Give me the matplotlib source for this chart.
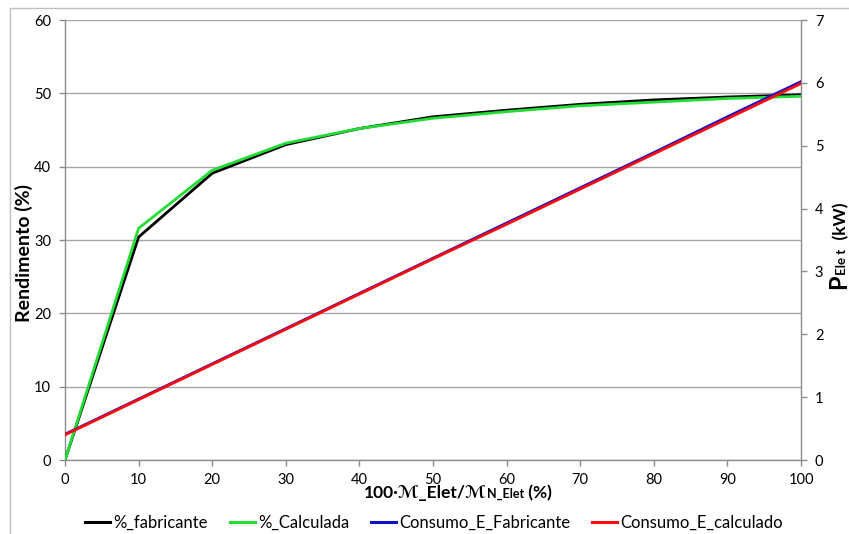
import matplotlib
matplotlib.use("Agg")
import matplotlib.pyplot as plt
from matplotlib.patches import Rectangle
from matplotlib.lines import Line2D

plt.rcParams['font.family'] = ['Lato', 'DejaVu Sans']

# Load level (% of nominal)
carga = [0, 10, 20, 30, 40, 50, 60, 70, 80, 90, 100]
# Efficiency (%)
rend_fabricante = [0, 30.4, 39.1, 43.0, 45.2, 46.8, 47.7, 48.5, 49.1, 49.5, 49.8]
rend_calculada = [0, 31.6, 39.5, 43.2, 45.2, 46.6, 47.5, 48.3, 48.8, 49.3, 49.6]
# Electric power (kW)
consumo_fabricante = [0.41, 0.97, 1.53, 2.09, 2.65, 3.21, 3.77, 4.33, 4.89, 5.46, 6.02]
consumo_calculado = [0.40, 0.96, 1.52, 2.08, 2.64, 3.20, 3.75, 4.31, 4.87, 5.43, 5.99]

W, H = 849, 534
fig = plt.figure(figsize=(W / 100, H / 100), dpi=100)

# chart area border
fig.patches.append(Rectangle((10 / W, -0.1), 1.2, (H - 8) / H + 0.1,
                             transform=fig.transFigure, fill=False,
                             edgecolor='#bfbfbf', lw=1.0))

ax = fig.add_axes([65 / W, (H - 460) / H, (801 - 65) / W, 440 / H])
ax2 = ax.twinx()

grid_c = '#8c8c8c'
ax.set_xlim(0, 100)
ax.set_ylim(0, 60)
ax.set_xticks(range(0, 101, 10))
ax.set_yticks(range(0, 61, 10))
ax.yaxis.grid(True, color='#a6a6a6', lw=1.0)
ax.set_axisbelow(True)
ax2.set_ylim(0, 7)
ax2.set_yticks(range(0, 8))

for a in (ax, ax2):
    for s in a.spines.values():
        s.set_visible(False)
    a.tick_params(colors=grid_c, labelcolor='black', labelsize=10.5,
                  length=4, width=1.0)
ax.spines['left'].set_visible(True)
ax.spines['bottom'].set_visible(True)
ax2.spines['right'].set_visible(True)
for s in (ax.spines['left'], ax.spines['bottom'], ax2.spines['right']):
    s.set_color(grid_c)
    s.set_linewidth(1.0)
ax.tick_params(axis='x', pad=5)
ax.tick_params(axis='y', pad=6)
ax2.tick_params(axis='y', pad=6)

lw = 2.0
ax.plot(carga, rend_fabricante, color='black', lw=lw, zorder=3)
ax.plot(carga, rend_calculada, color='#22dd33', lw=lw, zorder=4)
ax2.plot(carga, consumo_fabricante, color='#1010cc', lw=lw, zorder=3)
ax2.plot(carga, consumo_calculado, color='#ff0a0a', lw=lw, zorder=4)
ax.patch.set_visible(False)

ax.set_ylabel('Rendimento (%)', fontsize=14, fontweight='bold')
ax.yaxis.set_label_coords(-(65 - 33) / (801 - 65), 1 - (253 - 20) / 440)

# composite x label
fig.canvas.draw()
r = fig.canvas.get_renderer()

def place_row(pieces, xc, y):
    objs = []
    for txt, size in pieces:
        objs.append(fig.text(0, y / H, txt, fontsize=size, fontweight='bold',
                             ha='left', va='baseline'))
    widths = [o.get_window_extent(r).width for o in objs]
    x = xc - sum(widths) / 2
    for o, w in zip(objs, widths):
        o.set_x(x / W)
        x += w

place_row([('100·ℳ_Elet/ℳ', 12.5), ('N_Elet', 9), (' (%)', 12.5)], 458, H - 498)

def place_col(pieces, x, yc):
    objs = []
    for txt, size in pieces:
        objs.append(fig.text(x / W, 0, txt, fontsize=size, fontweight='bold',
                             rotation=90, ha='left', va='baseline',
                             rotation_mode='anchor'))
    heights = [o.get_window_extent(r).height for o in objs]
    y = yc - sum(heights) / 2
    for o, h in zip(objs, heights):
        o.set_y(y / H)
        y += h

place_col([('P', 17), ('Ele t', 9.5), ('  (kW)', 12.5)], 846, H - 246)

handles = [Line2D([], [], color='black', lw=2.2),
           Line2D([], [], color='#22dd33', lw=2.2),
           Line2D([], [], color='#1010cc', lw=2.2),
           Line2D([], [], color='#ff0a0a', lw=2.2)]
labels = ['%_fabricante', '%_Calculada', 'Consumo_E_Fabricante', 'Consumo_E_calculado']
fig.legend(handles, labels, loc='center', bbox_to_anchor=(434 / W, (H - 523) / H),
           ncol=4, frameon=False, fontsize=12, handlelength=1.5,
           handletextpad=0.2, columnspacing=1.3, borderaxespad=0)

fig.savefig('out.png', dpi=100)
